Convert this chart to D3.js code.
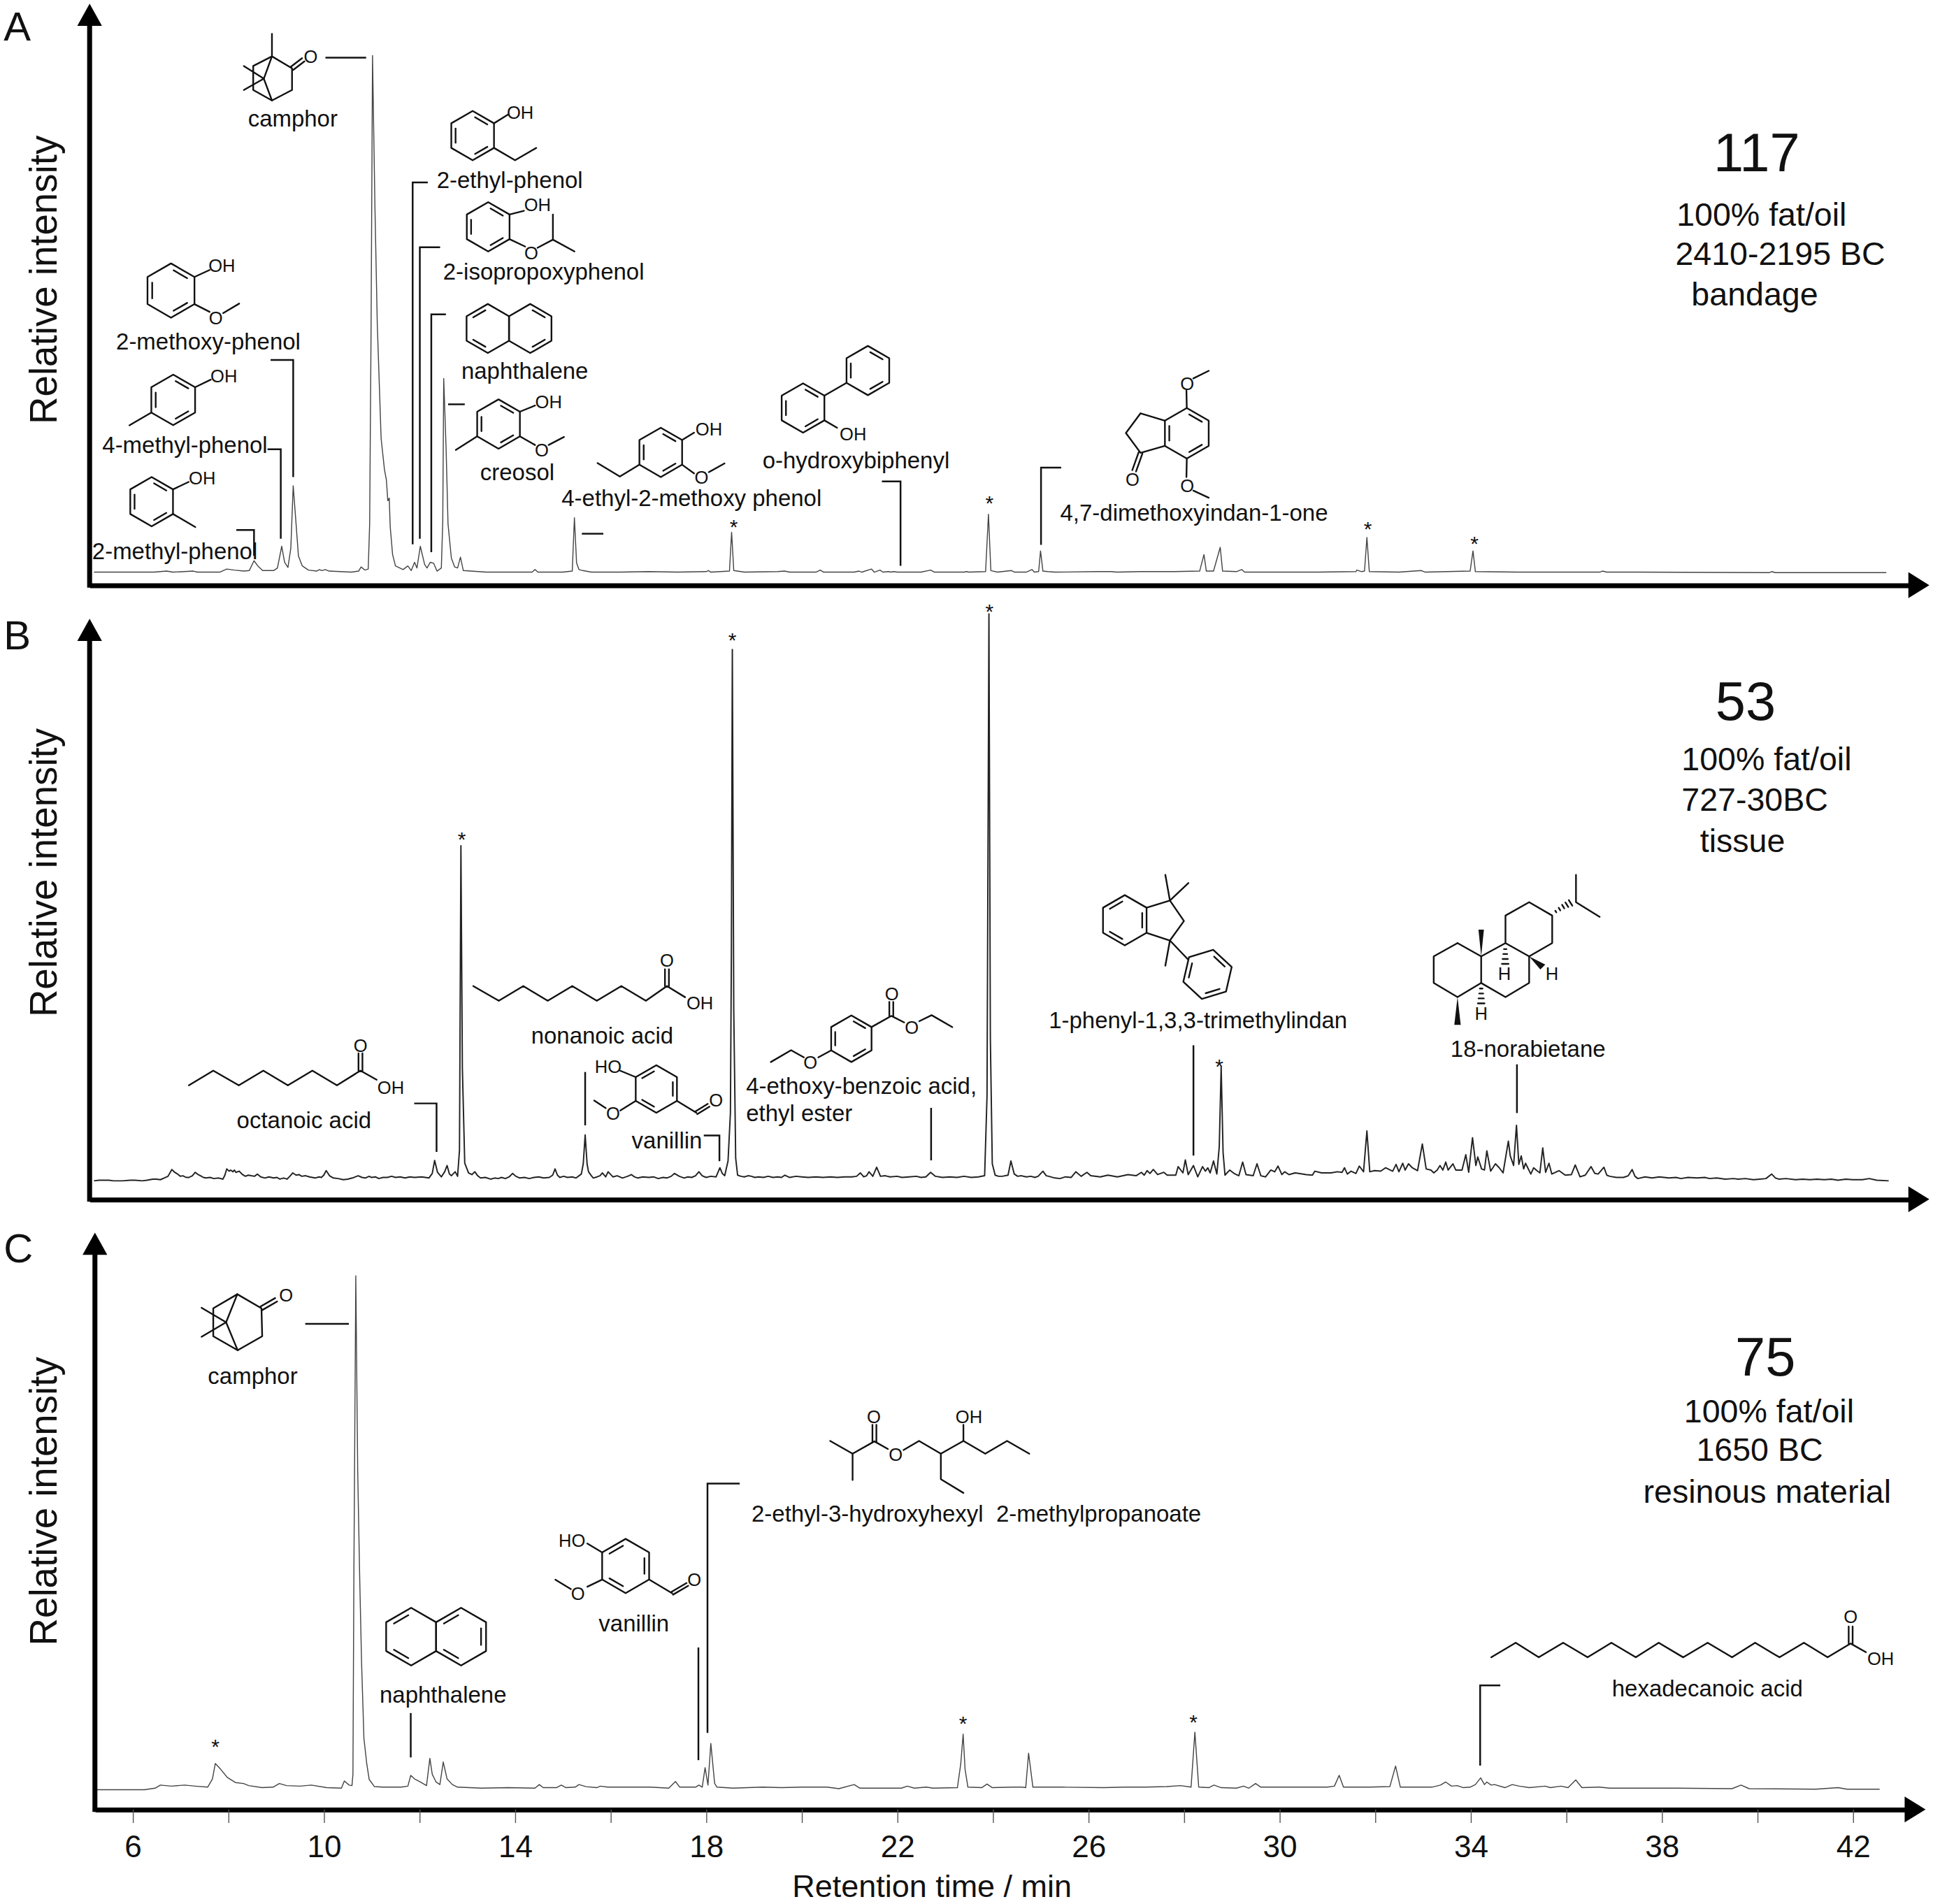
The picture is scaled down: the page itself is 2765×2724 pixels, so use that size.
<!DOCTYPE html>
<html lang="en">
<head>
<meta charset="UTF-8">
<title>Chromatograms</title>
<script src="https://d3js.org/d3.v7.min.js"></script>
<style>
  body { margin: 0; background: #fff; }
  svg { display: block; font-family: "Liberation Sans", Arial, sans-serif; }
</style>
</head>
<body>
<div id="chart"></div>
<script>
// retention time (min), relative intensity (% of the tallest peak of the panel)
const traceA = [[5.19,.2],[5.80,.2],[6.45,.2],[6.71,.4],[6.84,.2],[7.27,.4],[7.35,.2],[7.82,.2],[7.97,.8],[8.13,.6],[8.33,.4],[8.44,.5],[8.54,2.4],[8.62,1.4],[8.72,.5],[8.95,.5],[9.03,1],[9.12,5.2],[9.18,2.1],[9.25,1.1],[9.31,4.8],[9.36,16.9],[9.42,9.5],[9.47,3.3],[9.55,1.4],[9.68,.6],[9.85,.4],[9.91,.7],[9.96,.5],[10.03,.7],[10.11,.4],[10.58,.2],[10.73,.4],[10.78,1.2],[10.86,.6],[10.93,.8],[10.96,9.5],[10.99,47.6],[11.02,100],[11.07,71],[11.12,48],[11.20,26],[11.27,20],[11.31,18],[11.34,14],[11.37,14.5],[11.39,9],[11.44,3.6],[11.50,1.4],[11.66,.7],[11.76,1.4],[11.83,.5],[11.90,2.1],[11.95,1],[12.02,5.2],[12.11,1.7],[12.16,1],[12.23,2.1],[12.30,1.9],[12.37,.4],[12.46,1],[12.49,10],[12.51,37.6],[12.56,24],[12.60,9.5],[12.67,2.9],[12.74,1.2],[12.80,1],[12.86,3.1],[12.92,.5],[13.4,.2],[13.9,.2],[14.36,.2],[14.42,.7],[14.48,.2],[15.0,.2],[15.20,.4],[15.245,10.7],[15.29,2],[15.34,.7],[15.42,.5],[15.6,.2],[16.2,.2],[16.8,.3],[17.4,.2],[18.0,.3],[18.05,.5],[18.1,.2],[18.3,.3],[18.49,.4],[18.535,7.9],[18.58,.5],[18.8,.2],[19.5,.3],[19.64,.4],[19.75,.2],[20.3,.2],[20.39,.6],[20.46,.2],[21.1,.2],[21.2,.4],[21.26,.2],[21.46,.8],[21.52,.2],[21.64,.6],[21.7,.2],[21.82,.3],[21.87,.2],[21.93,.3],[22.0,.2],[22.5,.2],[22.7,.6],[22.78,.2],[23.4,.2],[23.45,.3],[23.5,.2],[23.85,.3],[23.91,11.4],[23.96,.5],[24.1,.2],[24.39,.5],[24.46,.2],[24.7,.2],[24.82,.7],[24.87,.2],[24.96,.3],[25.0,4.3],[25.05,.4],[25.15,.3],[25.3,.2],[26.2,.3],[26.47,.3],[26.6,.2],[27.09,.3],[27.8,.3],[28.33,.4],[28.42,3.6],[28.47,.4],[28.62,.4],[28.76,5],[28.81,.4],[29.1,.3],[29.21,.7],[29.27,.2],[30,.2],[30.8,.2],[31.6,.3],[31.62,.6],[31.72,.3],[31.78,.4],[31.83,6.9],[31.88,.3],[32.5,.2],[32.97,.5],[33.05,.2],[33.99,.4],[34.05,4.3],[34.1,.3],[35,.2],[36.7,.2],[36.76,.4],[36.85,.2],[37.5,.2],[40.25,.1],[40.3,.3],[40.38,.1],[42.7,.1]];

const traceB = [[5.19,0],[5.3,.1],[5.5,.1],[5.6,0],[5.79,0],[5.95,.1],[6.05,.1],[6.2,0],[6.30,.1],[6.42,.3],[6.5,.3],[6.58,.2],[6.66,.5],[6.74,.8],[6.82,2],[6.88,1.5],[6.94,1.2],[7.0,.8],[7.05,.9],[7.12,.6],[7.18,.6],[7.25,.9],[7.31,1.5],[7.37,1.1],[7.42,.9],[7.48,.6],[7.53,.5],[7.62,.6],[7.7,.4],[7.8,.5],[7.89,.3],[7.93,1],[7.97,2.1],[8.02,1.7],[8.05,1.9],[8.10,1.6],[8.13,1.9],[8.16,1.5],[8.23,1.7],[8.3,1.1],[8.36,.8],[8.42,1],[8.48,.9],[8.55,.8],[8.61,1.2],[8.68,.7],[8.77,.5],[8.85,.7],[8.95,.5],[9.02,.6],[9.08,.3],[9.16,.5],[9.23,.3],[9.29,.8],[9.35,1.4],[9.42,1],[9.48,1.1],[9.54,.8],[9.62,.9],[9.7,.7],[9.82,.5],[9.9,.7],[9.95,.6],[10.0,1],[10.05,1.8],[10.12,.9],[10.20,.5],[10.3,.4],[10.41,.2],[10.5,.3],[10.6,.5],[10.72,.9],[10.8,.6],[10.87,.5],[10.95,.8],[11.0,.6],[11.08,.7],[11.15,.4],[11.24,.6],[11.33,.6],[11.42,.8],[11.5,.6],[11.6,.7],[11.7,.5],[11.8,.7],[11.9,.6],[12.05,.7],[12.20,.5],[12.27,1.3],[12.32,3.6],[12.38,1.5],[12.46,.7],[12.53,1.6],[12.58,2.7],[12.63,1.2],[12.67,.9],[12.75,1.6],[12.80,.8],[12.84,5.4],[12.87,59.1],[12.90,20],[12.95,3.1],[13.03,1.4],[13.1,1.1],[13.16,1.6],[13.22,.9],[13.28,.5],[13.38,.6],[13.49,.3],[13.58,.5],[13.65,.4],[13.72,.6],[13.80,.4],[13.88,.7],[13.95,1.3],[14.02,.8],[14.10,.5],[14.2,.6],[14.3,.4],[14.4,.6],[14.5,.7],[14.6,.5],[14.72,.6],[14.79,1],[14.84,2.1],[14.89,1],[14.94,.6],[15.02,.8],[15.1,.6],[15.2,.7],[15.28,.5],[15.39,1.2],[15.43,3],[15.47,8.1],[15.51,3],[15.54,1.6],[15.6,.9],[15.64,.5],[15.72,.7],[15.78,.9],[15.83,1.4],[15.90,.7],[15.95,1.6],[16.05,.7],[16.14,.9],[16.25,.5],[16.36,.8],[16.44,1.1],[16.5,.7],[16.57,.5],[16.68,.7],[16.8,.6],[16.9,.7],[17.0,.4],[17.1,.6],[17.18,.5],[17.27,.8],[17.34,1.3],[17.44,.8],[17.54,.5],[17.62,.7],[17.7,.6],[17.78,.9],[17.85,1.6],[17.92,.9],[18.00,.6],[18.1,.8],[18.21,.7],[18.29,2.3],[18.34,1.3],[18.39,.9],[18.46,3.5],[18.51,12],[18.53,40],[18.55,93.7],[18.58,30],[18.62,4],[18.66,1],[18.73,.8],[18.8,.7],[18.88,.9],[18.95,.8],[19.02,.6],[19.1,.7],[19.2,.6],[19.3,.8],[19.4,.6],[19.5,.7],[19.58,.6],[19.65,1],[19.75,.6],[19.88,.8],[20,.7],[20.14,.6],[20.3,.7],[20.45,.6],[20.6,.7],[20.75,.6],[20.9,.7],[21.05,.7],[21.15,.8],[21.23,1.4],[21.3,.7],[21.36,.9],[21.41,1.6],[21.49,.8],[21.57,2.4],[21.65,.8],[21.75,.9],[21.85,.7],[22.0,.8],[22.1,.6],[22.25,.7],[22.4,.8],[22.5,.6],[22.6,.7],[22.7,1.5],[22.8,.8],[22.95,.6],[23.1,.7],[23.25,.6],[23.4,.8],[23.55,.6],[23.7,.7],[23.83,.9],[23.88,15],[23.92,100],[23.95,25],[23.99,3],[24.05,1],[24.12,.8],[24.2,.8],[24.32,1],[24.38,3.5],[24.45,1.2],[24.52,.8],[24.6,.9],[24.7,.7],[24.8,.8],[24.88,.6],[24.95,.8],[25.05,1.7],[25.12,.9],[25.17,.8],[25.3,.5],[25.41,.4],[25.52,.7],[25.64,.6],[25.74,1.6],[25.85,.8],[25.97,1.5],[26.05,.9],[26.25,.7],[26.41,1],[26.61,.7],[26.83,1.1],[27.0,.9],[27.11,1.5],[27.17,1],[27.23,1.8],[27.29,1.3],[27.36,2],[27.45,1.1],[27.58,1.5],[27.65,1],[27.83,1],[27.88,2.5],[27.98,1.4],[28.03,3.7],[28.09,1.1],[28.2,2.7],[28.29,.7],[28.39,2.5],[28.45,1.7],[28.5,2.3],[28.55,1.4],[28.62,3.5],[28.69,1.2],[28.74,6],[28.78,20.1],[28.82,5],[28.86,1],[28.96,1.9],[29.05,1.3],[29.15,.9],[29.23,3.3],[29.3,1.1],[29.45,.9],[29.53,3],[29.61,.9],[29.71,.7],[29.82,1.9],[29.9,1.6],[29.97,2.6],[30.05,1.1],[30.11,1.6],[30.2,1.1],[30.33,1.4],[30.56,1.1],[30.69,1],[30.74,1.7],[30.88,1.4],[31.08,1.4],[31.21,1.6],[31.31,1.5],[31.36,2.3],[31.42,1.2],[31.5,1.7],[31.6,1.3],[31.67,2.6],[31.76,1.6],[31.83,8.8],[31.89,1.6],[31.99,1.8],[32.12,1.7],[32.22,2.3],[32.37,1.7],[32.44,2.9],[32.5,1.6],[32.58,3.1],[32.63,1.9],[32.7,3],[32.78,2.3],[32.89,1.8],[32.99,6.5],[33.07,2.1],[33.17,1.9],[33.23,1.4],[33.3,1.9],[33.36,2.7],[33.42,1.9],[33.48,3.3],[33.53,1.9],[33.63,3],[33.69,1.9],[33.82,1.9],[33.9,4.6],[33.96,1.5],[34.04,7.6],[34.11,2.7],[34.15,4.2],[34.23,2.1],[34.29,1.9],[34.34,5.3],[34.42,1.7],[34.52,3],[34.6,2.3],[34.68,1.4],[34.79,7],[34.83,4.4],[34.9,2.7],[34.96,9.8],[35.01,2.9],[35.06,4.4],[35.11,2.1],[35.15,3.1],[35.26,1.2],[35.32,2.3],[35.4,1.7],[35.45,1.4],[35.51,5.8],[35.57,1.5],[35.64,3.1],[35.7,1.2],[35.85,1.8],[35.98,1],[36.11,1.1],[36.19,2.8],[36.29,.7],[36.4,1],[36.52,2.5],[36.6,1.3],[36.67,1.2],[36.79,2.4],[36.85,1],[36.91,.8],[37.05,.6],[37.20,.6],[37.3,.9],[37.38,2],[37.44,.8],[37.50,.4],[37.65,.7],[37.8,.5],[37.95,.7],[38.15,.5],[38.3,.6],[38.4,.4],[38.55,.6],[38.74,.5],[38.9,.6],[39.0,.4],[39.15,.5],[39.33,.3],[39.5,.4],[39.6,.3],[39.75,.4],[39.92,.2],[40.05,.3],[40.18,.4],[40.30,1.2],[40.38,.5],[40.45,.3],[40.6,.4],[40.8,.2],[40.95,.3],[41.1,.2],[41.25,.3],[41.4,.2],[41.55,.3],[41.69,.1],[41.85,.3],[42.0,.2],[42.2,.2],[42.34,.4],[42.5,.1],[42.75,0]];

const traceC = [[5.24,0],[6.25,0],[6.47,.3],[6.58,.9],[6.81,.7],[7.09,.9],[7.31,.7],[7.57,.5],[7.67,2.1],[7.73,5.1],[7.84,4],[7.98,2.4],[8.15,1.4],[8.32,1.2],[8.43,.8],[8.71,.4],[8.94,.5],[9.07,1.2],[9.22,.8],[9.50,.7],[9.74,.9],[10.06,.4],[10.37,.3],[10.43,1.7],[10.53,.9],[10.59,.8],[10.61,3],[10.63,42],[10.67,100],[10.71,62],[10.75,42],[10.79,25],[10.84,10],[10.9,5],[10.95,2],[11.06,.6],[11.23,.5],[11.34,.5],[11.62,.5],[11.76,.7],[11.82,2.8],[11.90,2.1],[12.02,1.5],[12.15,.8],[12.22,6.1],[12.27,3],[12.35,1.5],[12.43,1],[12.50,5.4],[12.58,2.1],[12.69,1],[12.8,.5],[13.3,.3],[13.86,.4],[14.42,.3],[14.51,1],[14.59,.4],[14.87,.4],[14.97,.9],[15.07,.4],[15.26,.5],[15.34,1],[15.49,.6],[15.71,.4],[15.79,.7],[15.94,.5],[16.83,.5],[17.22,.3],[17.36,1.6],[17.45,.5],[17.78,.5],[17.85,.9],[17.92,.5],[17.98,4.3],[18.04,.9],[18.10,9],[18.18,1.2],[18.23,.5],[18.57,.3],[19.18,.5],[19.58,.4],[20.02,.5],[20.53,.5],[20.78,.2],[21.10,1],[21.22,.3],[22.09,.3],[22.21,.7],[22.36,.3],[22.61,.5],[22.75,.3],[23.26,.4],[23.33,5],[23.38,10.8],[23.42,4],[23.48,.5],[23.77,.4],[23.88,1.1],[23.99,.4],[24.43,.5],[24.61,.5],[24.69,.4],[24.75,7.1],[24.84,.5],[25.16,.5],[25.45,.5],[26.33,.4],[26.77,.5],[27.20,.5],[27.64,.6],[27.93,.8],[28.15,.5],[28.23,11.2],[28.31,.5],[28.52,.4],[28.63,.9],[28.78,.4],[29.10,.3],[29.25,.7],[29.36,.3],[29.50,1.2],[29.61,.5],[30.42,.5],[31.0,.5],[31.15,.7],[31.25,2.8],[31.34,.5],[31.88,.5],[32.31,.6],[32.43,4.6],[32.53,.5],[33.19,.5],[33.37,.9],[33.48,1.5],[33.60,.7],[33.72,.8],[33.85,.4],[33.99,.5],[34.10,1],[34.21,2.3],[34.29,1],[34.34,1.5],[34.43,.9],[34.50,1],[34.72,.4],[34.87,1],[35.02,.7],[35.23,.4],[35.56,.7],[35.67,.4],[35.89,.7],[36.04,.4],[36.20,1.9],[36.33,.4],[36.69,.5],[36.91,.3],[38.3,.3],[39.47,.2],[39.66,.9],[39.83,.2],[41.22,.1],[41.69,.4],[41.88,.1],[42.56,.1]];

const xTicks = d3.range(6, 43, 2);
const xTickLabels = [6, 10, 14, 18, 22, 26, 30, 34, 38, 42];
const starsA = [18.58, 23.93, 31.85, 34.08];
const starsB = [12.89, 18.55, 23.93, 28.74];
const starsC = [7.73, 23.38, 28.2];
const samples = ["117", "53", "75"];
const infoA = ["100% fat/oil", "2410-2195 BC", "bandage"];
const infoB = ["100% fat/oil", "727-30BC", "tissue"];
const infoC = ["100% fat/oil", "1650 BC", "resinous material"];

const W = 1568, H = 1544.7, ink = "#111";

const svg = d3.select("#chart").append("svg")
    .attr("width", 2765).attr("height", 2724)
    .attr("viewBox", `0 0 ${W} ${H}`);

const x = d3.scaleLinear().domain([6, 42]).range([107.6, 1503]);

// ---- panels
function panel(cfg) {
    const g = svg.append("g");
    const y = d3.scaleLinear().domain([0, 100]).range([cfg.base, cfg.top]);
    const px = x.copy().domain([x.invert(cfg.left), x.invert(cfg.right)]).range([cfg.left, cfg.right]);
    const line = d3.line().x(d => x(d[0])).y(d => y(d[1]));

    g.append("path").datum(cfg.trace).attr("d", line)
        .attr("fill", "none").attr("stroke", cfg.color).attr("stroke-width", cfg.lw).attr("stroke-linejoin", "round");

    const axis = d3.axisBottom(px).tickSizeOuter(0).tickSizeInner(cfg.ticks.length ? 11 : 0).tickValues(cfg.ticks)
        .tickFormat(d => xTickLabels.includes(d) ? d : "");
    const ax = g.append("g").attr("transform", `translate(0,${cfg.axisY})`).call(axis);
    ax.select(".domain").attr("stroke", "#000").attr("stroke-width", 4);
    ax.selectAll(".tick line").attr("stroke", "#555").attr("stroke-width", .8);
    ax.selectAll(".tick text").attr("font-size", 25).attr("font-family", "inherit").attr("fill", "#111").attr("dy", 0).attr("y", 39);

    g.append("line").attr("x1", cfg.left).attr("x2", cfg.left).attr("y1", cfg.arrowY + 15).attr("y2", cfg.axisY + 2)
        .attr("stroke", "#000").attr("stroke-width", 4);
    g.append("path").attr("fill", "#000")
        .attr("d", `M${cfg.left},${cfg.arrowY}l10,18h-20z`);
    g.append("path").attr("fill", "#000")
        .attr("d", `M${cfg.right + 17},${cfg.axisY}l-17,10.5v-21z`);

    g.append("text").text("Relative intensity").attr("text-anchor", "middle").attr("font-size", 31).attr("fill", "#111")
        .attr("transform", `translate(46,${cfg.ylabY}) rotate(-90)`);
    g.append("text").text(cfg.letter).attr("x", 3).attr("y", cfg.letterY).attr("font-size", 33).attr("fill", "#111");

    cfg.stars.forEach((t, i) => {
        g.append("text").text("*").attr("x", x(t)).attr("y", cfg.starY[i] + 10).attr("text-anchor", "middle")
            .attr("font-size", 17).attr("fill", "#111");
    });

    // sample number and description on the right
    g.append("text").text(cfg.sample).attr("x", cfg.sampleX).attr("y", cfg.sampleY).attr("text-anchor", "middle")
        .attr("font-size", 44).attr("fill", "#111");
    cfg.info.forEach((s, i) => {
        g.append("text").text(s).attr("x", cfg.infoX[i]).attr("y", cfg.infoY[i]).attr("font-size", 26.4).attr("fill", "#111");
    });
    return {g, y};
}

panel({trace: traceA, color: "#444", lw: .8, top: 45, base: 465, axisY: 474.7, left: 72.7, right: 1548, arrowY: 3, ylabY: 227,
    letter: "A", letterY: 33, ticks: [], stars: starsA, starY: [423, 404, 425, 437], sample: samples[0], sampleX: 1425, sampleY: 139,
    info: infoA, infoX: [1360, 1359, 1372], infoY: [183, 215, 248]});
panel({trace: traceB, color: "#222", lw: 1.1, top: 498, base: 958, axisY: 973, left: 72.7, right: 1548, arrowY: 502, ylabY: 708,
    letter: "B", letterY: 527, ticks: [], stars: starsB, starY: [677, 515, 492, 861], sample: samples[1], sampleX: 1416, sampleY: 584,
    info: infoB, infoX: [1364, 1364, 1379], infoY: [625, 658, 691]});
panel({trace: traceC, color: "#444", lw: .8, top: 1035, base: 1452, axisY: 1468, left: 77, right: 1545, arrowY: 1000, ylabY: 1218,
    letter: "C", letterY: 1024, ticks: xTicks, stars: starsC, starY: [1413, 1394, 1393], sample: samples[2], sampleX: 1432, sampleY: 1116,
    info: infoC, infoX: [1366, 1376, 1333], infoY: [1154, 1185, 1219]});

svg.append("text").text("Retention time / min").attr("x", 756).attr("y", 1539).attr("text-anchor", "middle")
    .attr("font-size", 25.5).attr("fill", "#111");

// ---- annotation helpers
const notes = svg.append("g");
const chem = svg.append("g").attr("fill", "none").attr("stroke", ink).attr("stroke-width", 1.35)
    .attr("stroke-linecap", "round").attr("stroke-linejoin", "round");

function name(s, cx, cy, anchor) {
    notes.append("text").text(s).attr("x", cx).attr("y", cy).attr("dy", ".35em")
        .attr("text-anchor", anchor || "middle").attr("font-size", 18.7).attr("fill", ink);
}
// vertical leader at retention time t, optional hook at the top to x = hook
function leader(t, y1, y2, hook) {
    const p = hook === undefined ? [[x(t), y1], [x(t), y2]] : [[hook, y1], [x(t), y1], [x(t), y2]];
    notes.append("path").attr("d", d3.line()(p)).attr("fill", "none").attr("stroke", ink).attr("stroke-width", 1.4);
}
function dash(x1, x2, y) {
    notes.append("path").attr("d", d3.line()([[x1, y], [x2, y]])).attr("stroke", ink).attr("stroke-width", 1.4);
}
function bonds() {
    chem.append("path").attr("d", d3.line()(Array.from(arguments)));
}
function dbl(a, b, off) {
    const o = off === undefined ? 1.6 : off;
    const dx = b[0] - a[0], dy = b[1] - a[1], l = Math.hypot(dx, dy), nx = -dy / l * o, ny = dx / l * o;
    bonds([a[0] + nx, a[1] + ny], [b[0] + nx, b[1] + ny]);
    bonds([a[0] - nx, a[1] - ny], [b[0] - nx, b[1] - ny]);
}
function atom(s, cx, cy) {
    notes.append("text").text(s).attr("x", cx).attr("y", cy).attr("dy", ".36em")
        .attr("text-anchor", "middle").attr("font-size", 14.5).attr("fill", ink);
}
function ring(cx, cy, r, inner, rot) {
    const a0 = rot === undefined ? -90 : rot;
    const v = d3.range(6).map(i => {
        const a = (a0 + 60 * i) * Math.PI / 180;
        return [cx + r * Math.cos(a), cy + r * Math.sin(a)];
    });
    chem.append("path").attr("d", d3.line()(v) + "Z");
    inner.forEach(e => {
        const p = v[e], q = v[(e + 1) % 6];
        const sh = (u, w) => [cx + .8 * (u[0] + .14 * (w[0] - u[0]) - cx), cy + .8 * (u[1] + .14 * (w[1] - u[1]) - cy)];
        bonds(sh(p, q), sh(q, p));
    });
    return v;
}
function wedge(a, b, w) {
    chem.append("path").attr("fill", ink).attr("stroke", "none")
        .attr("d", `M${a[0]},${a[1]}L${b[0] - w},${b[1]}L${b[0] + w},${b[1]}Z`);
}

// ---- panel A structures
bonds([220.6, 27.4], [220.6, 45.7], [236.9, 55.4], [236.9, 73], [220.6, 81.5], [205.4, 73], [205.4, 53.5], [220.6, 45.7]);
bonds([220.6, 45.7], [214, 63.8], [220.6, 81.5]);
bonds([197.8, 53.5], [214, 63.8], [197.8, 73]);
dbl([236.9, 55.4], [246, 48.5]); atom("O", 252, 46);
name("camphor", 237.5, 96); dash(264, 297, 46.7);

let v = ring(383.4, 110, 20, [0, 2, 4]);
bonds(v[1], [412, 93]); atom("OH", 422, 91);
bonds(v[2], [417.8, 130], [435, 120]);
name("2-ethyl-phenol", 413.5, 146); leader(11.86, 148, 441.6, 347);

v = ring(396, 184, 20, [0, 2, 4]);
bonds(v[1], [425, 171]); atom("OH", 436, 166);
bonds(v[2], [426, 200]); atom("O", 431, 205);
bonds([436, 201], [448.5, 194.4], [448.5, 174]); bonds([448.5, 194.4], [466, 204]);
name("2-isopropoxyphenol", 441, 220); leader(12.01, 200.6, 437, 357);

ring(395.7, 266.5, 19.9, [5, 3]); ring(430.1, 266.5, 19.9, [0, 2]);
name("naphthalene", 425.7, 301); leader(12.25, 255, 448, 361.7);

v = ring(404.4, 344, 20, [0, 2, 4]);
bonds(v[1], [434, 329]); atom("OH", 445, 326);
bonds(v[2], [434, 361]); atom("O", 439.5, 365);
bonds([445, 361], [457.5, 354.5]); bonds(v[4], [369.7, 365]);
name("creosol", 419.6, 383); dash(363.5, 377, 328);

v = ring(140.5, 324.4, 20.5, [0, 2, 4]);
bonds(v[1], [171, 308]); atom("OH", 181.6, 305);
bonds(v[4], [105, 345]);
name("4-methyl-phenol", 150, 361); leader(9.10, 364.5, 437, 217);

v = ring(138.7, 235.7, 22, [0, 2, 4]);
bonds(v[1], [170, 219]); atom("OH", 180, 215.5);
bonds(v[2], [170, 253]); atom("O", 175, 258);
bonds([181, 254], [194, 246.3]);
name("2-methoxy-phenol", 169, 277); leader(9.36, 292, 387, 219.5);

v = ring(123, 407, 20, [0, 2, 4]);
bonds(v[1], [153, 391]); atom("OH", 164, 388);
bonds(v[2], [158.4, 427.6]);
name("2-methyl-phenol", 141.8, 447); leader(8.54, 430, 451, 191.7);

v = ring(536, 367, 20, [0, 2, 4]);
bonds(v[1], [563, 351]); atom("OH", 575, 348);
bonds(v[2], [563, 384]); atom("O", 569, 387);
bonds([575, 383], [587.7, 376]);
bonds(v[4], [502.8, 386.6], [484.7, 375.7]);
name("4-ethyl-2-methoxy phenol", 561, 404); dash(472, 489.4, 433);

v = ring(651.4, 331, 20, [0, 2, 4]);
const v2 = ring(704, 300.6, 20, [0, 2, 4]);
bonds(v[1], v2[4]);
bonds(v[2], [679, 347]); atom("OH", 692, 352);
name("o-hydroxybiphenyl", 694.4, 373.6); leader(22.07, 390.6, 459, 715.4);

v = ring(962.7, 351.5, 20.5, [0, 2, 4]);
bonds(v[5], [925.2, 335.3], [913.3, 351.3], [925.2, 367.4], v[4]);
dbl([925.2, 367.4], [920, 382]); atom("O", 918.7, 389);
bonds(v[0], [962.4, 317]); atom("O", 963, 311); bonds([968, 307], [980.5, 300.8]);
bonds(v[3], [962.4, 387]); atom("O", 963, 394); bonds([968, 398], [980.5, 403.8]);
name("4,7-dimethoxyindan-1-one", 968.6, 416); leader(25.01, 379.3, 442, 860.8);

// ---- panel B structures
bonds([153.2, 880.5], [173, 868.6], [193.7, 880.5], [213.6, 868.6], [233.5, 880.5], [253.4, 868.6], [273.3, 880.5], [292.4, 868.6], [305.5, 876]);
dbl([292.4, 868.6], [292.4, 854.5]); atom("O", 292.4, 848); atom("OH", 317, 882);
name("octanoic acid", 246.6, 909); leader(12.36, 895.2, 934.6, 336);

bonds([383.9, 800], [404.6, 811.9], [424.5, 800], [444.3, 811.9], [464.2, 800], [484.1, 811.9], [504, 800], [523.9, 811.9], [541, 800], [555.7, 809]);
dbl([541, 800], [541, 786.3]); atom("O", 541, 779); atom("OH", 567.7, 813.5);
name("nonanoic acid", 488.5, 840); leader(15.47, 869.7, 913);

v = ring(532.4, 883.5, 19.3, [5, 1, 3]);
bonds(v[5], [503, 868.6]); atom("HO", 493.3, 865.4);
bonds(v[4], [503.2, 901]); atom("O", 497.3, 903.2);
bonds([491.3, 899], [482, 892.8]);
bonds(v[2], [564.9, 902.8]); dbl([564.9, 902.8], [574.8, 896.7], 1.3); atom("O", 580.8, 892.4);
name("vanillin", 541, 925); leader(18.28, 921.2, 942, 570.9);

v = ring(690.6, 842.7, 18.9, [0, 2, 4]);
bonds(v[1], [723, 824.2], [733.4, 829.5]); dbl([723, 824.2], [723, 812.8]); atom("O", 723.4, 806.2);
atom("O", 739.6, 833.3); bonds([745.7, 828.5], [755.7, 823.6], [772.5, 833.3]);
bonds(v[4], [663.8, 857.8]); atom("O", 657.4, 862); bonds([652.1, 857.8], [641.7, 852], [625.3, 861.6]);
name("4-ethoxy-benzoic acid,", 605.2, 881, "start"); name("ethyl ester", 605.2, 903, "start");
leader(22.71, 898.8, 941.4);

v = ring(912.4, 746.6, 20.4, [5, 3, 1]);
bonds(v[1], [949, 730.6], [960.4, 747.2], [949, 763], v[2]);
bonds([945.3, 709.8], [949, 730.6], [964, 716.4]);
bonds([945.3, 783.4], [949, 763], [963.6, 778.3]);
ring(979.5, 790.5, 20.5, [0, 2, 4], -77);
name("1-phenyl-1,3,3-trimethylindan", 971.8, 827.7); leader(28.20, 848, 937.5);

// 18-norabietane
bonds([1182.3, 765.1], [1201.5, 775.9], [1221.2, 765.1], [1221.2, 742.8], [1240.4, 731.9], [1259.1, 742.8], [1259.1, 765.1], [1240.4, 775.9], [1221.2, 765.1]);
bonds([1201.5, 775.9], [1201.5, 797.5], [1221.2, 808.9], [1240.4, 797.5], [1240.4, 775.9]);
bonds([1201.5, 797.5], [1182.3, 808.9], [1163, 797.5], [1163, 775.9], [1182.3, 765.1]);
bonds([1278.4, 709.8], [1278.4, 731.9], [1297.6, 743.8]);
wedge([1201.5, 775.9], [1201.5, 754.2], 2.2);
wedge([1182.3, 808.9], [1182.3, 831.5], 2.6);
chem.append("path").attr("fill", ink).attr("stroke", "none").attr("d", d3.line()([[1240.4, 775.9], [1249.5, 786.5], [1253.5, 782.5]]));
// hashed bonds
[[1221, 770], [1221, 774], [1221, 778], [1221, 782], [1201.5, 802], [1201.5, 806], [1201.5, 810], [1201.5, 814]].forEach((p, i) => {
    const hw = 1 + (i % 4) * .55;
    bonds([p[0] - hw, p[1]], [p[0] + hw, p[1]]);
});
[[1262, 739.5], [1265, 737.5], [1268, 735.5], [1271, 734], [1274, 732.5]].forEach((p, i) => {
    const hw = .8 + i * .5;
    bonds([p[0] - hw * .5, p[1] - hw * .8], [p[0] + hw * .5, p[1] + hw * .8]);
});
atom("H", 1220.3, 790); atom("H", 1259, 790); atom("H", 1201.5, 822);
name("18-norabietane", 1239.5, 850.7); leader(34.97, 863.5, 903);

// ---- panel C structures
bonds([192.5, 1050], [212.1, 1061.4], [212.7, 1084.1], [192.8, 1095.5], [173, 1084.1], [173, 1061.4], [192.5, 1050]);
bonds([192.5, 1050], [183.4, 1072.8], [192.8, 1095.5]);
bonds([163.5, 1061], [183.4, 1072.8], [163.5, 1084.5]);
dbl([212.1, 1061.4], [224, 1054.5]); atom("O", 232, 1050.5);
name("camphor", 205, 1116); dash(247.6, 283, 1074);

ring(333.5, 1327.8, 23.4, [5, 3]); ring(374, 1327.8, 23.4, [5, 1, 3]);
name("naphthalene", 359.4, 1374.6); leader(11.82, 1389.8, 1425.8);

v = ring(507.5, 1270.5, 22, [5, 1, 3]);
bonds(v[5], [476.4, 1252.3]); atom("HO", 464, 1249.5);
bonds(v[4], [476.4, 1287.3]); atom("O", 468.8, 1293);
bonds([463.1, 1289.2], [450.5, 1281.6]);
bonds(v[2], [545.3, 1292.6]); dbl([545.3, 1292.6], [557.6, 1285.4], 1.3); atom("O", 563.3, 1281.6);
name("vanillin", 514.2, 1317);
leader(17.84, 1336.6, 1428); leader(18.03, 1203.6, 1406, 600);

bonds([673.4, 1169], [691.6, 1179.4], [709.3, 1169.4], [720.2, 1175.6]);
bonds([691.6, 1179.4], [691.6, 1200.7]);
dbl([709.3, 1169.4], [709.3, 1156]); atom("O", 708.8, 1149.4); atom("O", 726.5, 1179.8);
bonds([732.9, 1176.4], [745.5, 1169], [763.2, 1179.4], [781.5, 1169], [799.2, 1179.4], [816.9, 1169], [834.9, 1179.4]);
bonds([781.5, 1169], [781.5, 1156]); atom("OH", 786, 1149.4);
bonds([763.2, 1179.4], [763.2, 1200.1], [781.5, 1211.2]);
name("2-ethyl-3-hydroxyhexyl\u00a0 2-methylpropanoate", 792, 1228);

bonds([1209.7, 1344.6], [1229.5, 1332.8], [1248.2, 1344.6], [1268, 1332.8], [1287.8, 1344.6], [1307.1, 1332.8], [1326.9, 1344.6], [1345.5, 1332.8], [1365.4, 1344.6], [1385.2, 1332.8], [1405, 1344.6], [1423.7, 1332.8], [1443.5, 1344.6], [1463.3, 1332.8], [1482.5, 1344.6], [1501.2, 1333.4], [1513.6, 1340.4]);
dbl([1501.2, 1333.4], [1501.2, 1319.6]); atom("O", 1501.2, 1311.6); atom("OH", 1525.5, 1345.7);
name("hexadecanoic acid", 1385, 1370); leader(34.2, 1367.4, 1432.5, 1217);
</script>
</body>
</html>
